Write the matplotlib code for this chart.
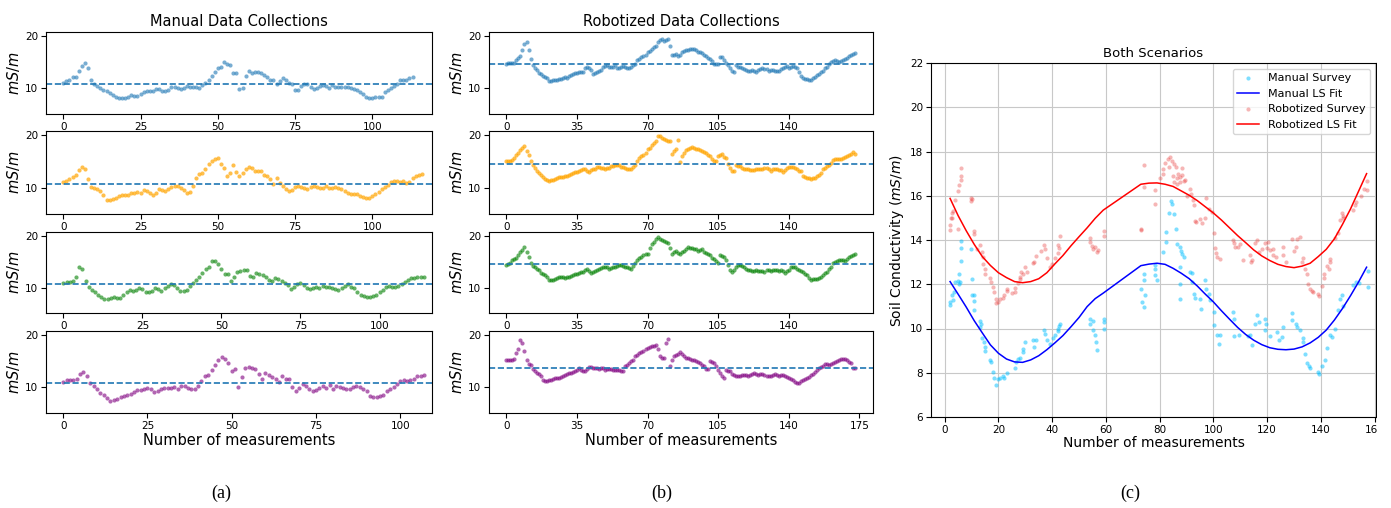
import numpy as np
import matplotlib
matplotlib.use('Agg')
from matplotlib import pyplot as plt
from matplotlib.patches import Rectangle

# ---- (a) manual collections, one value per measurement ----
manual_1 = [11.0, 11.3, 11.5, 12.1, 12.1, 13.4, 14.3, 14.8, 13.8, 11.5,
            10.8, 10.4, 10.0, 9.7, 9.4, 9.0, 8.7, 8.4, 8.2, 8.2,
            8.2, 8.4, 8.7, 8.6, 8.5, 8.9, 9.2, 9.4, 9.5, 9.5,
            9.9, 9.9, 9.5, 9.4, 9.7, 10.2, 10.3, 10.1, 9.9, 10.0,
            10.5, 10.3, 10.2, 10.3, 10.0, 10.6, 11.0, 11.5, 12.3, 13.1,
            13.8, 14.1, 15.0, 14.7, 14.5, 12.9, 12.9, 9.8, 10.1, 12.3,
            13.3, 12.9, 13.1, 13.1, 13.0, 12.5, 12.1, 11.6, 11.5, 10.9,
            11.3, 12.0, 11.6, 11.1, 10.9, 9.7, 9.7, 10.4, 10.9, 10.8,
            10.3, 9.8, 10.1, 10.4, 10.6, 10.4, 10.0, 10.6, 10.3, 10.3,
            10.2, 10.3, 10.2, 10.0, 9.8, 9.6, 9.3, 8.9, 8.4, 8.1,
            8.1, 8.4, 8.4, 8.4, 9.2, 9.6, 10.1, 10.4, 10.9, 11.5,
            11.6, 11.5, 12.0, 12.1]
manual_2 = [11.1, 11.4, 11.7, 12.0, 12.5, 13.4, 14.0, 13.6, 11.6, 10.1,
            9.9, 9.7, 9.4, 8.6, 7.8, 7.8, 7.9, 8.1, 8.4, 8.7,
            8.7, 8.7, 9.0, 9.1, 9.2, 9.1, 9.6, 9.4, 9.1, 8.7,
            9.0, 9.8, 9.6, 9.4, 9.8, 10.1, 10.3, 10.3, 10.0, 9.6,
            9.0, 9.3, 10.4, 11.9, 12.7, 12.8, 13.5, 14.6, 15.2, 15.5,
            15.6, 14.6, 13.8, 12.2, 12.8, 14.4, 13.0, 12.2, 12.8, 13.6,
            14.0, 13.8, 13.2, 13.3, 13.2, 12.5, 12.2, 11.6, 10.8, 11.9,
            10.9, 10.4, 9.7, 9.4, 9.6, 10.2, 10.4, 10.2, 9.9, 9.7,
            10.2, 10.3, 10.2, 10.0, 10.0, 10.4, 10.0, 10.0, 10.1, 10.0,
            9.7, 9.4, 9.1, 8.9, 8.9, 8.8, 8.5, 8.3, 8.1, 8.0,
            8.4, 8.9, 9.2, 9.8, 10.2, 10.6, 11.1, 11.3, 11.3, 11.1,
            11.3, 11.0, 11.2, 11.9, 12.3, 12.5, 12.7]
manual_3 = [10.8, 11.0, 11.1, 11.2, 12.1, 14.0, 13.7, 11.3, 10.2, 9.6,
            9.1, 8.6, 8.2, 7.8, 7.8, 8.0, 8.2, 8.0, 8.0, 8.6,
            9.1, 9.6, 9.4, 9.6, 10.0, 9.7, 9.2, 9.2, 9.4, 10.0,
            9.7, 9.4, 9.9, 10.3, 10.7, 10.5, 9.9, 9.4, 9.4, 9.6,
            10.3, 10.9, 11.5, 12.1, 12.8, 13.7, 14.0, 15.2, 15.1, 14.6,
            13.7, 12.7, 12.7, 11.3, 12.1, 13.0, 13.2, 13.4, 13.4, 12.2,
            12.1, 12.9, 12.6, 12.4, 12.1, 11.5, 11.3, 11.8, 11.6, 11.3,
            10.9, 10.5, 9.7, 10.1, 10.7, 10.9, 10.5, 9.9, 9.7, 9.9,
            10.1, 9.9, 10.3, 10.1, 10.2, 9.9, 9.7, 9.6, 9.9, 10.3,
            10.7, 10.2, 9.9, 9.2, 8.6, 8.3, 8.2, 8.2, 8.3, 8.6,
            9.2, 9.6, 10.1, 10.3, 10.1, 10.1, 10.3, 10.7, 11.1, 11.5,
            11.8, 11.9, 12.0, 12.1, 12.1]
manual_4 = [11.0, 11.3, 11.3, 11.4, 11.6, 12.6, 12.9, 12.2, 10.8, 10.3,
            9.6, 8.8, 8.6, 7.9, 7.4, 7.6, 7.8, 8.1, 8.3, 8.5,
            8.7, 9.1, 9.4, 9.4, 9.6, 9.9, 9.7, 9.0, 9.2, 9.7,
            9.9, 9.9, 9.9, 10.1, 9.7, 10.2, 10.3, 9.9, 9.7, 9.7,
            10.3, 11.2, 12.1, 12.3, 13.3, 14.2, 15.2, 15.8, 15.4, 14.6,
            13.1, 13.5, 10.1, 12.0, 13.6, 13.9, 13.7, 13.5, 12.6, 11.6,
            12.8, 12.4, 12.0, 11.5, 11.0, 12.2, 11.5, 11.5, 10.1, 9.2,
            9.9, 10.7, 10.3, 9.6, 9.2, 9.4, 9.9, 10.2, 9.9, 10.5,
            9.7, 10.2, 10.1, 9.9, 9.7, 9.7, 10.1, 10.2, 10.1, 9.7,
            9.2, 8.4, 8.1, 8.1, 8.4, 8.6, 9.2, 9.7, 10.1, 10.7,
            11.2, 11.3, 11.2, 11.3, 11.6, 12.1, 12.1, 12.3]
manual_means = [10.82, 10.76, 10.63, 10.77]
manual_ticks = [0, 25, 50, 75, 100]

# ---- (b) robotized collections ----
robot_1 = [14.7, 14.8, 14.9, 14.8, 14.9, 15.4, 15.8, 16.2, 17.3, 18.5,
           18.9, 17.4, 15.7, 14.4, 13.8, 13.5, 13.0, 12.7, 12.4, 12.2,
           11.9, 11.3, 11.4, 11.5, 11.6, 11.6, 11.7, 11.8, 11.9, 12.1,
           12.0, 12.3, 12.5, 12.7, 13.0, 12.9, 13.2, 13.1, 13.2, 13.8,
           14.1, 13.8, 13.5, 12.8, 13.0, 13.2, 13.4, 13.5, 14.1, 14.2,
           14.4, 14.1, 14.0, 14.0, 14.4, 13.8, 13.9, 14.1, 14.2, 14.0,
           13.8, 13.9, 14.1, 14.4, 14.7, 15.5, 15.7, 16.0, 16.2, 16.3,
           17.0, 17.2, 17.6, 17.9, 18.2, 18.9, 19.2, 19.5, 19.1, 19.3,
           19.5, 18.2, 16.3, 16.4, 16.5, 16.2, 16.3, 17.0, 17.2, 17.3,
           17.3, 17.5, 17.6, 17.5, 17.4, 17.0, 17.0, 16.8, 16.3, 16.2,
           15.9, 15.6, 15.3, 14.7, 14.7, 14.7, 16.0, 16.0, 15.4, 14.8,
           14.4, 13.9, 13.4, 13.2, 14.4, 14.1, 14.0, 13.8, 13.6, 13.5,
           13.4, 13.4, 13.5, 13.3, 13.2, 13.5, 13.6, 13.8, 13.7, 13.6,
           13.4, 13.5, 13.5, 13.4, 13.4, 13.4, 13.6, 13.8, 14.1, 14.2,
           13.8, 14.0, 14.2, 14.0, 13.8, 13.2, 12.4, 11.9, 11.8, 11.7,
           11.5, 11.6, 11.9, 12.2, 12.5, 12.8, 13.1, 13.4, 13.8, 14.1,
           14.7, 15.0, 15.2, 15.4, 15.3, 15.1, 15.3, 15.5, 15.7, 15.9,
           16.1, 16.3, 16.5, 16.8]
robot_2 = [15.1, 15.1, 15.1, 15.3, 15.6, 16.3, 16.7, 17.1, 17.6, 17.9,
           17.0, 16.3, 15.1, 14.3, 13.8, 13.3, 12.8, 12.4, 12.0, 11.6,
           11.5, 11.4, 11.5, 11.5, 11.7, 11.9, 12.1, 12.1, 12.1, 12.2,
           12.3, 12.5, 12.7, 12.8, 13.0, 13.1, 13.2, 13.4, 13.5, 13.6,
           13.3, 13.0, 13.4, 13.5, 13.6, 13.9, 14.0, 13.8, 13.7, 13.5,
           13.7, 13.8, 14.1, 14.2, 14.4, 14.3, 14.3, 14.0, 13.9, 13.8,
           13.6, 13.5, 13.6, 14.0, 14.4, 15.2, 15.6, 16.0, 16.3, 16.6,
           17.3, 17.6, 18.2, 18.6, 18.9, 19.8, 19.9, 19.5, 19.2, 19.0,
           18.9, 18.9, 16.5, 17.0, 17.3, 19.0, 14.9, 16.0, 16.6, 17.2,
           17.4, 17.5, 17.7, 17.6, 17.4, 17.3, 17.2, 17.0, 16.8, 16.6,
           16.3, 16.1, 15.5, 15.2, 15.1, 16.0, 16.3, 16.5, 15.9, 15.7,
           14.6, 13.8, 13.2, 13.2, 14.4, 14.2, 14.1, 13.8, 13.6, 13.5,
           13.5, 13.4, 13.4, 13.4, 13.5, 13.5, 13.5, 13.6, 13.7, 13.8,
           13.5, 13.2, 13.5, 13.6, 13.5, 13.4, 13.4, 13.0, 13.4, 13.8,
           13.9, 14.0, 13.9, 13.8, 13.5, 13.3, 13.2, 12.3, 12.0, 11.9,
           11.8, 11.7, 11.8, 11.9, 12.2, 12.5, 12.8, 13.5, 13.8, 14.1,
           14.4, 14.7, 15.3, 15.4, 15.5, 15.4, 15.4, 15.7, 15.9, 16.0,
           16.3, 16.5, 16.8, 16.5]
robot_3 = [14.4, 14.6, 14.7, 15.3, 15.6, 15.8, 16.3, 16.9, 17.3, 17.8,
           16.9, 16.0, 14.8, 14.2, 14.0, 13.6, 13.4, 12.8, 12.6, 12.4,
           12.1, 11.5, 11.5, 11.5, 11.6, 11.8, 12.1, 12.0, 12.0, 11.8,
           12.0, 12.1, 12.3, 12.4, 12.6, 12.6, 12.8, 13.0, 13.1, 13.4,
           13.7, 13.3, 12.9, 13.1, 13.3, 13.5, 13.7, 13.8, 13.9, 14.0,
           13.9, 13.7, 13.8, 13.9, 14.0, 14.2, 14.4, 14.4, 14.2, 14.0,
           13.9, 13.8, 13.7, 14.2, 14.8, 15.3, 15.7, 16.0, 16.3, 16.5,
           16.6, 17.6, 18.4, 18.8, 19.4, 19.9, 19.5, 19.3, 19.0, 18.8,
           18.7, 17.6, 16.6, 17.0, 17.2, 16.8, 16.6, 16.9, 17.2, 17.4,
           17.8, 17.7, 17.6, 17.5, 17.4, 17.2, 17.3, 17.4, 16.9, 16.7,
           16.5, 16.3, 15.8, 15.5, 15.2, 14.8, 16.3, 16.1, 16.0, 15.3,
           14.4, 13.5, 13.1, 13.4, 13.9, 14.4, 14.3, 14.2, 13.9, 13.7,
           13.5, 13.4, 13.3, 13.3, 13.4, 13.3, 13.3, 13.2, 13.1, 13.5,
           13.4, 13.3, 13.4, 13.5, 13.4, 13.3, 13.4, 13.2, 12.9, 13.3,
           13.5, 14.0, 13.9, 13.9, 13.7, 13.5, 13.3, 13.1, 12.7, 12.4,
           11.8, 11.5, 11.6, 11.6, 11.7, 11.8, 12.1, 12.4, 12.9, 13.1,
           13.6, 13.9, 14.7, 15.0, 15.2, 15.3, 15.4, 15.3, 15.2, 15.6,
           16.0, 16.1, 16.4, 16.6]
robot_4 = [15.2, 15.2, 15.2, 15.3, 15.5, 16.5, 17.4, 19.0, 18.5, 16.9,
           15.2, 14.5, 14.2, 13.5, 13.1, 12.8, 12.5, 12.2, 11.3, 11.2,
           11.2, 11.3, 11.4, 11.6, 11.7, 11.8, 11.8, 11.9, 12.1, 12.4,
           12.6, 12.8, 12.8, 12.9, 13.2, 13.4, 13.7, 13.4, 13.1, 13.1,
           13.5, 13.9, 13.8, 13.7, 13.7, 13.6, 13.5, 13.6, 13.7, 13.4,
           13.5, 13.5, 13.5, 13.4, 13.3, 13.3, 13.4, 13.2, 13.1, 14.0,
           14.3, 14.6, 15.0, 15.3, 16.0, 16.2, 16.5, 16.7, 16.9, 17.4,
           17.5, 17.8, 17.9, 18.0, 18.2, 17.4, 16.0, 15.6, 15.6, 18.5,
           19.3, 14.0, 15.2, 16.0, 16.1, 16.3, 16.7, 16.4, 16.0, 15.7,
           15.6, 15.4, 15.3, 15.2, 15.0, 14.8, 14.6, 14.3, 14.0, 13.5,
           13.5, 15.0, 14.8, 14.6, 14.0, 13.4, 12.8, 12.2, 11.8, 13.3,
           13.2, 13.1, 12.6, 12.4, 12.2, 12.2, 12.2, 12.3, 12.4, 12.3,
           12.2, 12.4, 12.6, 12.8, 12.5, 12.4, 12.5, 12.6, 12.4, 12.2,
           12.1, 12.2, 12.4, 12.6, 12.4, 12.2, 12.3, 12.4, 12.1, 11.9,
           11.8, 11.5, 11.3, 11.0, 10.8, 10.9, 11.2, 11.3, 11.5, 11.8,
           12.0, 12.3, 12.6, 13.0, 13.4, 13.7, 13.9, 14.1, 14.4, 14.4,
           14.3, 14.4, 14.6, 14.8, 15.1, 15.3, 15.5, 15.4, 15.5, 15.2,
           14.8, 14.6, 13.6, 13.7]
robot_means = [14.56, 14.56, 14.55, 13.65]
robot_ticks = [0, 35, 70, 105, 140]
robot_ticks_last = [0, 35, 70, 105, 140, 175]

# ---- (c) both scenarios ----
manual_x = [1.9, 2.1, 2.7, 3.1, 3.3, 4.0, 4.8, 5.2, 5.5, 5.8, 6.1, 6.1, 6.1, 9.8, 10.2, 10.2,
            11.0, 11.0, 11.0, 13.0, 13.3, 13.5, 13.9, 14.5, 15.1, 15.1, 17.0, 17.2, 18.0, 18.2,
            19.2, 20.0, 20.7, 21.7, 22.0, 23.2, 26.3, 26.7, 27.2, 27.9, 29.1, 29.1, 30.0,
            32.8, 33.1, 34.1, 36.8, 37.4, 38.1, 39.3, 40.3, 41.2, 42.0, 42.1, 42.4, 43.0,
            53.9, 54.2, 55.0, 55.2, 56.0, 56.4, 56.6, 59.1, 59.1, 59.3, 73.0, 73.4, 74.0,
            74.2, 74.2, 74.6, 78.3, 78.3, 78.3, 79.0, 81.2, 82.5, 82.5, 83.3, 84.2, 84.6,
            85.2, 86.1, 86.4, 87.4, 87.4, 87.4, 87.6, 88.0, 88.3, 88.9, 91.1, 92.0, 92.0,
            92.6, 93.2, 95.1, 95.3, 96.9, 97.3, 98.2, 98.8, 100.3, 100.3, 101.3, 102.0,
            102.5, 107.4, 107.6, 107.8, 109.5, 113.0, 113.5, 114.4, 115.6, 116.2, 117.0,
            119.3, 119.3, 119.6, 121.0, 123.6, 124.3, 125.5, 126.0, 129.1, 129.3, 130.9,
            131.2, 132.2, 133.2, 133.5, 134.1, 135.0, 135.4, 136.0, 139.0, 139.3, 140.3,
            141.5, 142.2, 143.4, 144.0, 145.3, 146.2, 147.1, 147.8, 148.2, 152.1, 153.1,
            154.0, 157.5, 157.5]
manual_y = [11.05, 11.2, 11.5, 11.3, 11.65, 12.1, 12.13, 12.47, 12.0, 12.1, 13.03, 13.63, 13.97,
            13.6, 12.25, 11.5, 11.5, 11.23, 10.82, 10.33, 10.07, 10.2, 9.55, 9.4, 9.17, 8.98,
            8.57, 8.5, 8.05, 7.78, 7.45, 7.7, 7.78, 7.84, 7.75, 7.98, 8.2, 8.47, 8.62, 8.65,
            8.95, 9.07, 9.37, 9.47, 9.17, 9.47, 9.92, 9.77, 9.47, 9.32, 9.58, 9.7, 10.0, 9.9,
            10.12, 10.22, 10.45, 10.22, 10.35, 9.92, 9.7, 9.4, 9.02, 10.45, 10.0, 10.3, 11.8,
            11.2, 10.97, 12.17, 12.47, 11.5, 12.88, 12.7, 12.4, 12.2, 13.45, 14.35, 13.93,
            15.23, 15.78, 15.63, 15.18, 14.5, 13.82, 12.77, 12.02, 11.32, 13.67, 13.5, 13.37,
            13.22, 12.55, 12.1, 12.5, 11.57, 11.37, 11.35, 10.9, 12.17, 11.8, 11.57, 11.27,
            10.75, 10.15, 9.7, 9.3, 9.7, 10.75, 10.45, 9.65, 9.7, 9.65, 9.7, 9.25, 10.22,
            10.6, 10.3, 10.45, 9.92, 10.2, 9.65, 9.85, 9.5, 9.62, 10.07, 10.72, 10.4, 10.22,
            10.05, 9.92, 9.55, 9.4, 8.83, 8.42, 8.3, 8.2, 8.05, 7.95, 8.32, 8.57, 9.1, 9.7,
            9.6, 10.0, 10.82, 11.35, 11.53, 11.0, 11.95, 12.1, 12.05, 12.62, 11.87]
robot_x = [2.1, 2.1, 2.4, 2.6, 2.9, 3.1, 3.8, 4.8, 4.8, 5.2, 6.1, 6.1, 6.1, 9.8, 9.8, 10.1,
           10.8, 11.0, 12.0, 13.0, 13.9, 14.1, 14.3, 15.1, 15.1, 17.0, 17.2, 18.0, 18.2,
           19.2, 19.2, 20.0, 20.7, 21.7, 22.2, 23.2, 23.2, 25.0, 26.3, 26.3, 27.2, 27.9,
           28.1, 28.4, 29.0, 30.0, 30.6, 32.8, 33.2, 34.1, 36.0, 37.1, 37.4, 38.1, 39.3,
           40.0, 41.2, 42.0, 42.1, 42.4, 42.8, 54.0, 54.2, 54.8, 55.2, 56.0, 56.6, 57.0,
           59.1, 59.1, 73.0, 73.2, 74.0, 74.2, 78.3, 78.3, 80.0, 81.2, 81.4, 82.1, 83.0,
           83.3, 84.0, 84.6, 85.0, 85.2, 85.4, 86.1, 86.3, 86.5, 87.0, 87.4, 87.6, 88.3,
           88.3, 88.9, 89.5, 90.0, 91.1, 91.6, 92.3, 92.6, 93.0, 93.6, 95.1, 95.7, 97.0,
           97.3, 98.2, 99.4, 100.3, 100.6, 101.0, 101.3, 102.3, 107.4, 107.6, 108.0, 109.0,
           110.0, 111.0, 113.5, 114.0, 114.4, 115.6, 116.2, 116.8, 118.0, 119.3, 119.9,
           120.2, 121.1, 122.0, 122.3, 123.3, 126.0, 126.0, 127.0, 129.1, 130.0, 130.9,
           131.2, 132.2, 133.0, 133.2, 134.1, 134.7, 135.3, 136.0, 136.6, 137.2, 139.0,
           139.2, 140.3, 141.0, 141.2, 142.2, 143.0, 143.2, 143.5, 145.3, 146.2, 147.1,
           147.8, 148.2, 148.4, 152.1, 152.7, 153.2, 155.0, 156.0, 157.2, 157.2]
robot_y = [14.45, 14.68, 14.98, 15.2, 15.0, 15.3, 15.8, 14.5, 16.22, 16.5, 16.72, 16.9, 17.25,
           15.88, 15.76, 15.85, 14.4, 14.25, 13.6, 13.76, 13.46, 13.23, 12.9, 12.7, 12.48,
           12.26, 12.1, 11.88, 11.66, 11.35, 11.13, 11.2, 11.32, 11.38, 11.5, 11.68, 11.8,
           11.6, 11.83, 11.66, 12.07, 12.22, 12.32, 12.55, 12.45, 12.8, 12.57, 12.97, 13.0,
           13.27, 13.5, 13.78, 13.6, 13.18, 12.77, 12.9, 13.2, 13.78, 13.4, 13.63, 14.2,
           13.9, 14.08, 13.75, 13.6, 13.68, 13.48, 13.55, 14.42, 14.16, 14.45, 14.5, 17.38,
           16.4, 16.27, 15.62, 16.8, 17.0, 17.22, 17.48, 17.67, 17.3, 17.75, 17.57, 16.9,
           16.6, 17.45, 17.3, 16.8, 16.55, 17.0, 16.85, 16.62, 17.27, 16.92, 16.67, 16.7,
           16.0, 16.32, 16.1, 15.83, 15.57, 14.85, 14.82, 14.97, 14.75, 15.0, 15.92, 15.42,
           15.27, 14.3, 13.62, 13.4, 13.24, 13.12, 14.0, 13.85, 13.7, 13.7, 13.82, 13.1,
           13.32, 13.0, 13.1, 13.85, 14.0, 13.47, 13.6, 13.85, 13.62, 13.9, 13.55, 13.6,
           13.3, 13.25, 13.7, 13.32, 13.0, 14.03, 13.5, 13.7, 14.05, 14.15, 13.0, 13.2,
           12.67, 12.45, 12.0, 11.8, 11.7, 11.65, 11.55, 11.45, 11.93, 12.3, 12.45, 12.82,
           12.7, 13.12, 13.0, 14.1, 14.3, 14.92, 15.22, 15.1, 15.0, 15.37, 15.6, 15.7,
           16.0, 16.3, 16.65, 16.25]

fit_x = [2, 5, 8, 11, 14, 17, 20, 23, 26, 29, 32, 35, 38, 41, 44, 47, 50, 53, 56, 59,
         73, 76, 79, 82, 85, 88, 91, 94, 97, 100, 103, 106, 109, 112, 115, 118, 121, 124,
         127, 130, 133, 136, 139, 142, 145, 148, 151, 154, 157]
manual_fit = [12.12, 11.55, 10.97, 10.35, 9.8, 9.26, 8.88, 8.62, 8.49, 8.47, 8.58, 8.77,
              9.04, 9.35, 9.68, 10.08, 10.5, 10.99, 11.35, 11.6, 12.84, 12.91, 12.95, 12.9,
              12.72, 12.5, 12.25, 11.92, 11.55, 11.2, 10.8, 10.42, 10.05, 9.73, 9.47, 9.27,
              9.13, 9.06, 9.04, 9.07, 9.17, 9.35, 9.6, 9.93, 10.38, 10.9, 11.48, 12.1, 12.77]
robot_fit = [15.88, 15.1, 14.42, 13.8, 13.25, 12.85, 12.52, 12.3, 12.12, 12.07, 12.12, 12.25,
             12.52, 12.92, 13.3, 13.74, 14.15, 14.55, 14.98, 15.35, 16.52, 16.57, 16.58, 16.52,
             16.42, 16.22, 16.02, 15.78, 15.5, 15.22, 14.9, 14.55, 14.2, 13.88, 13.55, 13.28,
             13.07, 12.9, 12.8, 12.75, 12.82, 12.95, 13.25, 13.58, 14.05, 14.7, 15.4, 16.2, 17.0]
both_xticks = [0, 20, 40, 60, 80, 100, 120, 140, 160]
both_yticks = [6, 8, 10, 12, 14, 16, 18, 20, 22]

run_colors = ['tab:blue', 'orange', 'green', 'purple']
run_alpha = [0.6, 0.7, 0.6, 0.6]

W, H = 1391.0, 508.0
fig = plt.figure(figsize=(W / 100, H / 100), dpi=100)


def px_axes(left, top, right, bottom):
    return fig.add_axes([left / W, 1 - bottom / H, (right - left) / W, (bottom - top) / H])


rows = [(32, 114), (131, 214), (232, 313), (331, 413)]


def draw_column(left, right, runs, means, xlims, ticks, title):
    for i, (top, bottom) in enumerate(rows):
        ax = px_axes(left, top, right, bottom)
        vals = runs[i]
        ax.scatter(np.arange(len(vals)), vals, s=9, color=run_colors[i],
                   alpha=run_alpha[i], linewidths=0)
        ax.axhline(means[i], color='tab:blue', ls='--', lw=1.2)
        ax.set_xlim(*xlims[i])
        ax.set_ylim(5.05, 20.8)
        ax.set_yticks([10, 20])
        ax.set_xticks(ticks[i])
        ax.tick_params(labelsize=7.5, pad=2)
        ax.set_ylabel('$mS/m$', fontsize=10.5, labelpad=2)
        if i == 0:
            ax.set_title(title, fontsize=10.5, pad=4)
        if i == 3:
            ax.set_xlabel('Number of measurements', fontsize=10.5, labelpad=2)


draw_column(46, 432, [manual_1, manual_2, manual_3, manual_4], manual_means,
            [(-5.6, 119.3), (-5.6, 119.3), (-5.5, 116.6), (-5.1, 109.4)],
            [manual_ticks] * 4, 'Manual Data Collections')
draw_column(489, 873, [robot_1, robot_2, robot_3, robot_4], robot_means,
            [(-8.6, 181.8)] * 4,
            [robot_ticks, robot_ticks, robot_ticks, robot_ticks_last],
            'Robotized Data Collections')

axc = px_axes(931, 63, 1376, 417)
axc.grid(True, color='#c8c8c8', lw=0.8)
axc.set_axisbelow(True)
axc.scatter(manual_x, manual_y, s=9, color='deepskyblue', alpha=0.5, linewidths=0,
            label='Manual Survey')
axc.plot(fit_x, manual_fit, color='blue', lw=1.1, label='Manual LS Fit')
axc.scatter(robot_x, robot_y, s=9, color='#e8302f', alpha=0.35, linewidths=0,
            label='Robotized Survey')
axc.plot(fit_x, robot_fit, color='red', lw=1.1, label='Robotized LS Fit')
axc.set_xlim(-5.1, 160.5)
axc.set_ylim(6, 22)
axc.set_xticks(both_xticks)
axc.set_yticks(both_yticks)
axc.tick_params(labelsize=7.5, pad=2)
axc.set_title('Both Scenarios', fontsize=9.5, pad=4)
axc.set_xlabel('Number of measurements', fontsize=10, labelpad=1)
axc.set_ylabel('Soil Conductivity ($mS/m$)', fontsize=10, labelpad=3)
axc.legend(loc='upper right', fontsize=8)

# the source figure is cut off just right of panel (c)
fig.add_artist(Rectangle((1377 / W, 0), 1 - 1377 / W, 1, transform=fig.transFigure,
                         facecolor='white', edgecolor='none', zorder=10))

for label, xpos in [('(a)', 221), ('(b)', 662), ('(c)', 1130)]:
    fig.text(xpos / W, 1 - 493 / H, label, ha='center', va='center', fontsize=13,
             family='Liberation Serif')

fig.savefig('out.png', dpi=100)
